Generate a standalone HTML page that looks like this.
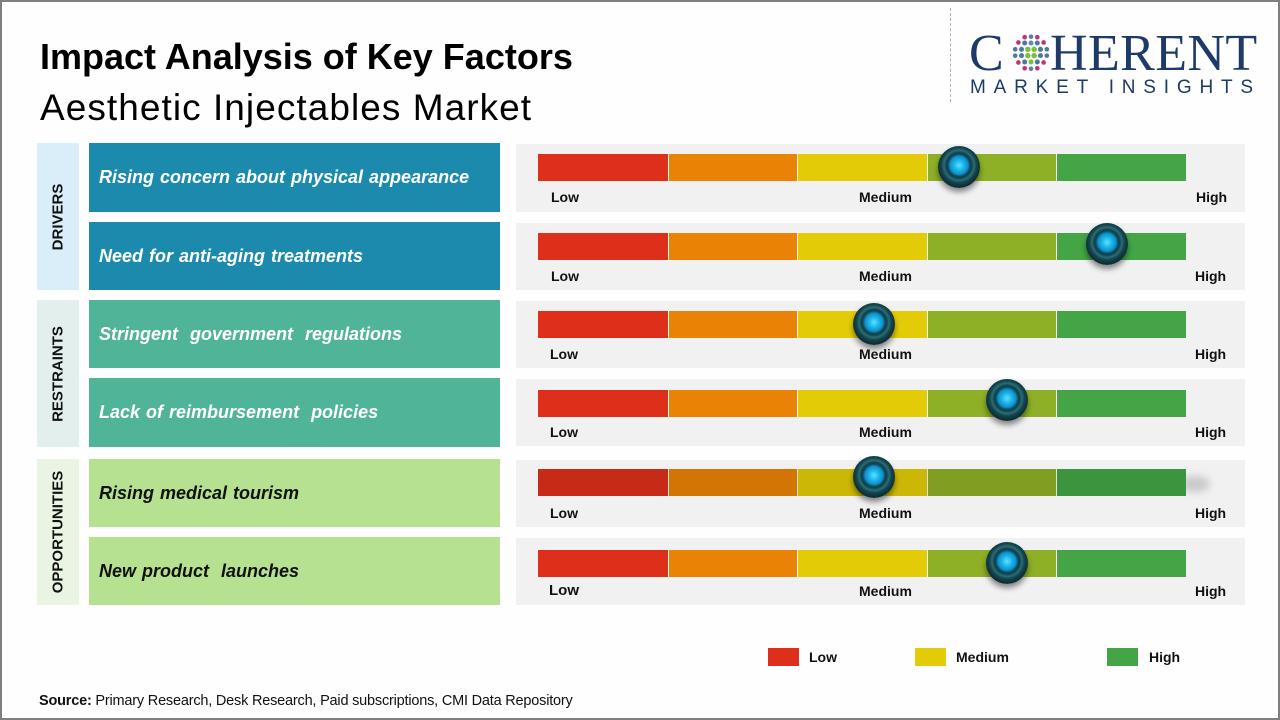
<!DOCTYPE html>
<html><head><meta charset="utf-8">
<style>
*{margin:0;padding:0;box-sizing:border-box}
html,body{width:1280px;height:720px;overflow:hidden;background:#fff}
#frame{position:absolute;left:0;top:0;width:1280px;height:720px;border:2px solid #7f7f7f;background:#fefefe}
.abs{position:absolute}
.t1{left:40px;top:36px;font:bold 36px "Liberation Sans",sans-serif;color:#000;white-space:nowrap}
.t2{left:40px;top:87px;font:37px "Liberation Sans",sans-serif;letter-spacing:1.05px;color:#000;white-space:nowrap}
.cat{position:absolute;left:37px;width:42px}
.cat span{position:absolute;left:50%;top:50%;transform:translate(-50%,-50%) rotate(-90deg);font:bold 15px "Liberation Sans",sans-serif;color:#111;white-space:nowrap}
.fac{position:absolute;left:89px;width:411px;display:flex;align-items:center;padding-left:10px;font:italic bold 18px "Liberation Sans",sans-serif;white-space:nowrap;word-spacing:1px}
.panel{position:absolute;left:516px;width:729px;background:#f1f1f1}
.bar{position:absolute;left:538px;width:648px;height:27px;display:flex}
.bar div{height:100%;width:129.6px}
.bar div+div{border-left:1.5px solid #fbfbf0}
.s1{background:#de2f1b}.s2{background:#ea8206}.s3{background:#e4cb07}.s4{background:#8eb026}.s5{background:#44a546}
.lbl{position:absolute;font:bold 14px "Liberation Sans",sans-serif;color:#111;line-height:14px}
.knob{position:absolute;width:42px;height:42px;margin-left:-21px;margin-top:-21px;border-radius:50%;
background:radial-gradient(circle at 50% 46%,#5fe0ff 0,#1cb6ea 5px,#0f8fc8 9px,#0b4f66 11px,#123e47 12.5px,#2b6d76 15px,#16454d 17.5px,#0d3038 21px);
box-shadow:0 4px 6px rgba(0,0,0,.45)}
.leg{position:absolute;top:648px;width:31px;height:18px}
.legt{position:absolute;top:649px;font:bold 14px "Liberation Sans",sans-serif;color:#111}
</style></head><body>
<div id="frame"></div>

<div class="abs t1">Impact Analysis of Key Factors</div>
<div class="abs t2">Aesthetic Injectables Market</div>

<!-- logo -->
<div class="abs" style="left:950px;top:8px;height:94px;border-left:1.5px dashed #b0b0b0"></div>
<div class="abs" style="left:969px;top:24px;font:52px 'Liberation Serif',serif;color:#1e3a68;line-height:60px;white-space:nowrap">C</div>
<svg class="abs" style="left:1011px;top:33px" width="40" height="40" viewBox="0 0 38 38">
<g>
<circle cx="13" cy="4" r="2.2" fill="#c4336f"/><circle cx="19" cy="3.5" r="2.2" fill="#5b7fa0"/><circle cx="25" cy="4" r="2.2" fill="#c4336f"/>
<circle cx="7" cy="9" r="2.2" fill="#c4336f"/><circle cx="13" cy="9.5" r="2.4" fill="#4c7a9e"/><circle cx="19" cy="9.5" r="2.4" fill="#5b90b0"/><circle cx="25" cy="9.5" r="2.4" fill="#4c7a9e"/><circle cx="31" cy="9" r="2.2" fill="#c4336f"/>
<circle cx="4" cy="15.5" r="2.2" fill="#4c7a9e"/><circle cx="10" cy="15.5" r="2.4" fill="#4c7a9e"/><circle cx="16" cy="15.5" r="2.6" fill="#7cbf3e"/><circle cx="22" cy="15.5" r="2.6" fill="#7cbf3e"/><circle cx="28" cy="15.5" r="2.4" fill="#4c7a9e"/><circle cx="34" cy="15.5" r="2.2" fill="#4c7a9e"/>
<circle cx="4" cy="21.5" r="2.2" fill="#4c7a9e"/><circle cx="10" cy="21.5" r="2.4" fill="#4c7a9e"/><circle cx="16" cy="21.5" r="2.6" fill="#7cbf3e"/><circle cx="22" cy="21.5" r="2.6" fill="#7cbf3e"/><circle cx="28" cy="21.5" r="2.4" fill="#4c7a9e"/><circle cx="34" cy="21.5" r="2.2" fill="#4c7a9e"/>
<circle cx="7" cy="28" r="2.2" fill="#c4336f"/><circle cx="13" cy="27.5" r="2.4" fill="#4c7a9e"/><circle cx="19" cy="27.5" r="2.4" fill="#7cbf3e"/><circle cx="25" cy="27.5" r="2.4" fill="#4c7a9e"/><circle cx="31" cy="28" r="2.2" fill="#c4336f"/>
<circle cx="13" cy="33.5" r="2.2" fill="#c4336f"/><circle cx="19" cy="34" r="2.2" fill="#5b7fa0"/><circle cx="25" cy="33.5" r="2.2" fill="#c4336f"/>
</g></svg>
<div class="abs" style="left:1050px;top:24px;font:52px 'Liberation Serif',serif;color:#1e3a68;line-height:60px;white-space:nowrap;letter-spacing:0.4px">HERENT</div>
<div class="abs" style="left:970px;top:77px;font:19px 'Liberation Sans',sans-serif;color:#1e3a68;letter-spacing:7.8px;white-space:nowrap">MARKET INSIGHTS</div>

<!-- categories -->
<div class="cat" style="top:143px;height:147px;background:#d9eef8"><span>DRIVERS</span></div>
<div class="cat" style="top:300px;height:147px;background:#e2efed"><span>RESTRAINTS</span></div>
<div class="cat" style="top:459px;height:146px;background:#e9f5e2"><span>OPPORTUNITIES</span></div>

<!-- factors -->
<div class="fac" style="top:143px;height:69px;background:#1b8aad;color:#fff">Rising concern about physical appearance</div>
<div class="fac" style="top:222px;height:68px;background:#1b8aad;color:#fff">Need for anti-aging treatments</div>
<div class="fac" style="top:300px;height:68px;background:#50b499;color:#fff">Stringent&nbsp; government&nbsp; regulations</div>
<div class="fac" style="top:378px;height:69px;background:#50b499;color:#fff">Lack of reimbursement&nbsp; policies</div>
<div class="fac" style="top:459px;height:68px;background:#b6e190;color:#111">Rising medical tourism</div>
<div class="fac" style="top:537px;height:68px;background:#b6e190;color:#111">New product&nbsp; launches</div>

<!-- panels -->
<div class="panel" style="top:144px;height:68px"></div>
<div class="panel" style="top:223px;height:67px"></div>
<div class="panel" style="top:301px;height:67px"></div>
<div class="panel" style="top:379px;height:67px"></div>
<div class="panel" style="top:460px;height:67px"></div>
<div class="panel" style="top:538px;height:67px"></div>

<!-- bars -->
<div class="bar" style="top:154px"><div class="s1"></div><div class="s2"></div><div class="s3"></div><div class="s4"></div><div class="s5"></div></div>
<div class="bar" style="top:233px"><div class="s1"></div><div class="s2"></div><div class="s3"></div><div class="s4"></div><div class="s5"></div></div>
<div class="bar" style="top:311px"><div class="s1"></div><div class="s2"></div><div class="s3"></div><div class="s4"></div><div class="s5"></div></div>
<div class="bar" style="top:390px"><div class="s1"></div><div class="s2"></div><div class="s3"></div><div class="s4"></div><div class="s5"></div></div>
<div class="abs" style="left:1180px;top:476px;width:30px;height:16px;border-radius:50%;background:#c9c9c9;filter:blur(4px)"></div>
<div class="bar" style="top:469px;filter:brightness(0.9)"><div class="s1"></div><div class="s2"></div><div class="s3"></div><div class="s4"></div><div class="s5"></div></div>
<div class="bar" style="top:550px"><div class="s1"></div><div class="s2"></div><div class="s3"></div><div class="s4"></div><div class="s5"></div></div>

<!-- labels -->
<div class="lbl" style="left:551px;top:190px">Low</div><div class="lbl" style="left:859px;top:190px">Medium</div><div class="lbl" style="left:1196px;top:190px">High</div>
<div class="lbl" style="left:551px;top:269px">Low</div><div class="lbl" style="left:859px;top:269px">Medium</div><div class="lbl" style="left:1195px;top:269px">High</div>
<div class="lbl" style="left:550px;top:347px">Low</div><div class="lbl" style="left:859px;top:347px">Medium</div><div class="lbl" style="left:1195px;top:347px">High</div>
<div class="lbl" style="left:550px;top:425px">Low</div><div class="lbl" style="left:859px;top:425px">Medium</div><div class="lbl" style="left:1195px;top:425px">High</div>
<div class="lbl" style="left:550px;top:506px">Low</div><div class="lbl" style="left:859px;top:506px">Medium</div><div class="lbl" style="left:1195px;top:506px">High</div>
<div class="lbl" style="left:549px;top:584px;font-size:15px">Low</div><div class="lbl" style="left:859px;top:584px">Medium</div><div class="lbl" style="left:1195px;top:584px">High</div>

<!-- knobs -->
<div class="knob" style="left:959px;top:167px"></div>
<div class="knob" style="left:1107px;top:244px"></div>
<div class="knob" style="left:874px;top:324px"></div>
<div class="knob" style="left:1007px;top:400px"></div>
<div class="knob" style="left:874px;top:477px"></div>
<div class="knob" style="left:1007px;top:563px"></div>

<!-- legend -->
<div class="leg" style="left:768px;background:#de2f1b"></div><div class="legt" style="left:809px">Low</div>
<div class="leg" style="left:915px;background:#e4cb07"></div><div class="legt" style="left:956px">Medium</div>
<div class="leg" style="left:1107px;background:#44a546"></div><div class="legt" style="left:1149px">High</div>

<!-- source -->
<div class="abs" style="left:39px;top:693px;font:14.5px 'Liberation Sans',sans-serif;color:#111;white-space:nowrap;letter-spacing:-0.2px"><b>Source:</b> Primary Research, Desk Research, Paid subscriptions, CMI Data Repository</div>
</body></html>
